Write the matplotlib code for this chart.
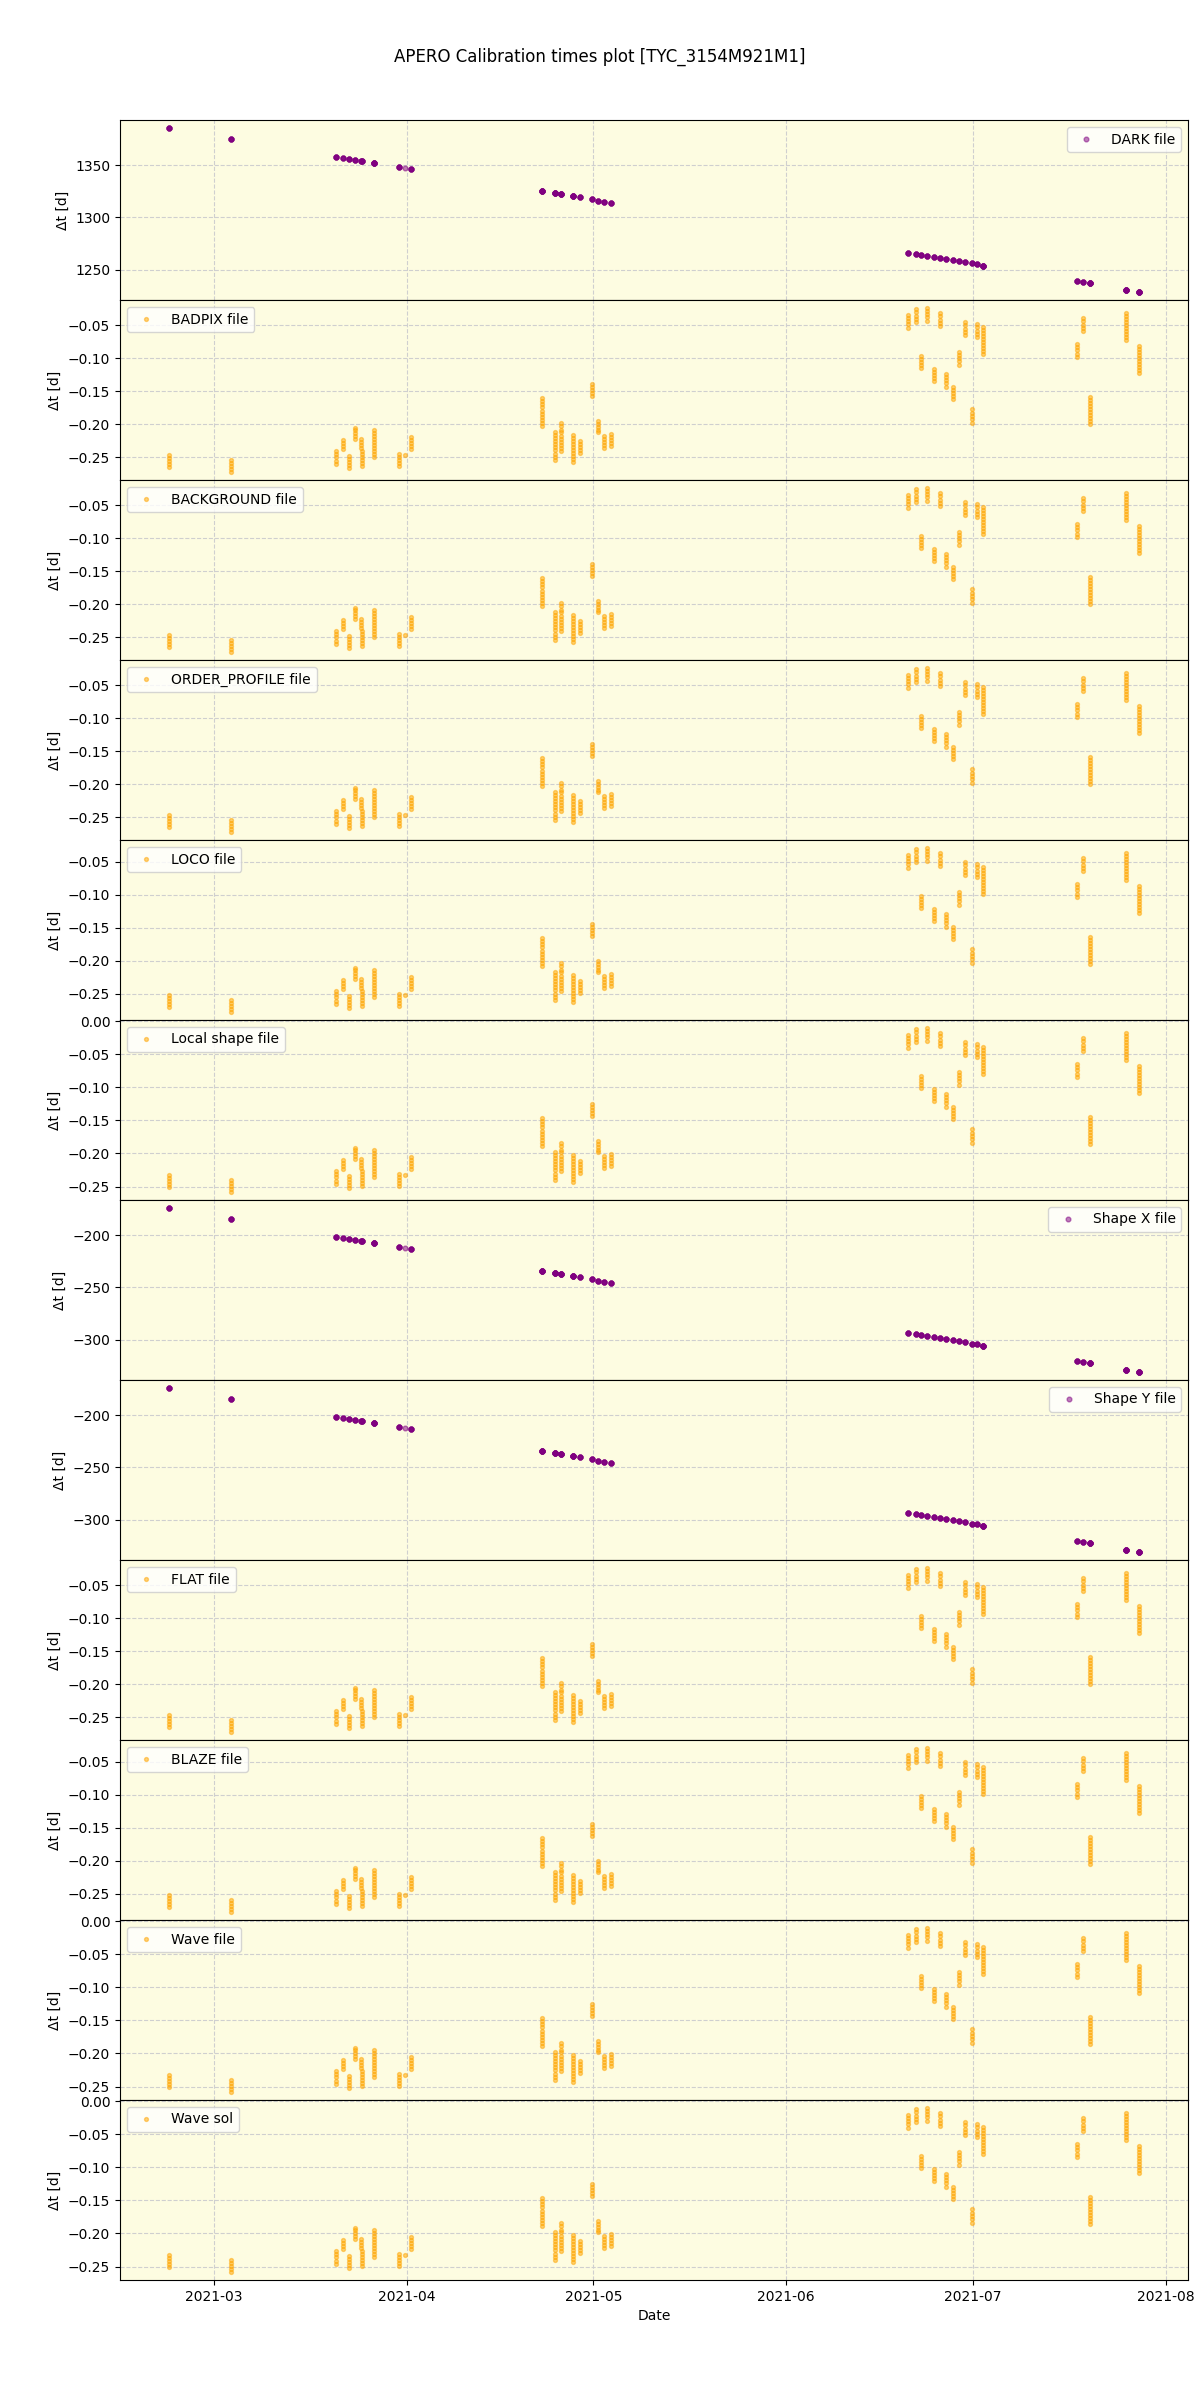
"""APERO calibration times plot: delta-t between each science frame and the
calibration file used for it, one panel per calibration type."""
import numpy as np
import pandas as pd
import matplotlib
matplotlib.use("Agg")
import matplotlib.pyplot as plt

TITLE = "APERO Calibration times plot [TYC_3154M921M1]"

# one entry per observing night (the Mar 24 night is split in two blocks)
NIGHTS = ["2021-02-21 17:00", "2021-03-03 17:00", "2021-03-20 17:00", "2021-03-21 17:00",
          "2021-03-22 17:00", "2021-03-23 17:00", "2021-03-24 14:00", "2021-03-24 19:00",
          "2021-03-26 17:00", "2021-03-30 17:00", "2021-03-31 17:00", "2021-04-01 17:00",
          "2021-04-22 19:00", "2021-04-24 19:00", "2021-04-25 19:00", "2021-04-27 19:00",
          "2021-04-28 19:00", "2021-04-30 17:00", "2021-05-01 19:00", "2021-05-02 19:00",
          "2021-05-03 22:00", "2021-06-20 14:00", "2021-06-21 19:00", "2021-06-22 17:00",
          "2021-06-23 17:00", "2021-06-24 19:00", "2021-06-25 17:00", "2021-06-26 17:00",
          "2021-06-27 19:00", "2021-06-28 19:00", "2021-06-29 17:00", "2021-06-30 22:00",
          "2021-07-01 17:00", "2021-07-02 17:00", "2021-07-17 17:00", "2021-07-18 17:00",
          "2021-07-19 19:00", "2021-07-25 17:00", "2021-07-27 19:00"]

# delta-t [d] to the reference DARK, per night
DARK_DT = [1385.2, 1374.8, 1357.6, 1356.7, 1355.7, 1354.8, 1353.9, 1353.7,
           1351.9, 1348.1, 1347.1, 1346.2, 1325.2, 1323.3, 1322.4, 1320.5,
           1319.5, 1317.6, 1315.7, 1314.8, 1313.8, 1266.2, 1265.2, 1264.3,
           1263.3, 1262.2, 1261.7, 1260.6, 1259.5, 1258.6, 1257.6, 1256.2,
           1255.6, 1254.1, 1239.5, 1238.6, 1237.3, 1231.0, 1229.0]

# delta-t [d] to the reference Shape X / Shape Y files, per night
SHAPEX_DT = [-174.3, -184.8, -201.9, -202.9, -203.8, -204.8, -205.6, -205.8,
             -207.6, -211.4, -212.4, -213.3, -234.3, -236.2, -237.1, -239.1,
             -240.0, -241.9, -243.8, -244.8, -245.7, -293.3, -294.5, -295.4,
             -296.4, -297.5, -298.4, -299.4, -300.5, -301.5, -302.4, -303.6,
             -304.4, -305.4, -320.4, -321.4, -322.5, -328.4, -330.5]
SHAPEY_DT = list(SHAPEX_DT)

# delta-t [d] to the nightly calibrations (BADPIX set), one list per night,
# one value per science frame
CAL_DT = [
    [-0.247, -0.251, -0.2555, -0.2595, -0.264],
    [-0.254, -0.2585, -0.263, -0.2675, -0.272],
    [-0.241, -0.2455, -0.25, -0.255, -0.2595],
    [-0.2245, -0.229, -0.2335, -0.238],
    [-0.248, -0.2525, -0.257, -0.262, -0.2665],
    [-0.205, -0.2095, -0.214, -0.2185, -0.223],
    [-0.2225, -0.227, -0.2315, -0.236],
    [-0.2405, -0.245, -0.2495, -0.254, -0.2585, -0.2635],
    [-0.2085, -0.213, -0.2175, -0.222, -0.227, -0.2315, -0.236, -0.2405, -0.245, -0.25],
    [-0.2445, -0.249, -0.2535, -0.2585, -0.2635],
    [-0.247],
    [-0.219, -0.2235, -0.228, -0.2325, -0.237],
    [-0.1605, -0.165, -0.17, -0.1745, -0.1795, -0.184, -0.189, -0.1935, -0.1985, -0.203],
    [-0.212, -0.2165, -0.221, -0.226, -0.2305, -0.235, -0.2395, -0.2445, -0.249, -0.2535],
    [-0.1985, -0.203, -0.208, -0.2125, -0.2175, -0.222, -0.227, -0.2315, -0.2365, -0.241],
    [-0.216, -0.2205, -0.225, -0.2295, -0.234, -0.239, -0.2435, -0.248, -0.2525, -0.257],
    [-0.225, -0.2295, -0.234, -0.2385, -0.2435],
    [-0.139, -0.1435, -0.148, -0.1525, -0.157],
    [-0.1945, -0.199, -0.2035, -0.208, -0.2125],
    [-0.2175, -0.222, -0.2265, -0.231, -0.2355],
    [-0.2145, -0.219, -0.2235, -0.228, -0.2325],
    [-0.035, -0.0395, -0.0445, -0.049, -0.054],
    [-0.026, -0.031, -0.036, -0.041, -0.046],
    [-0.097, -0.1015, -0.106, -0.111, -0.1155],
    [-0.0245, -0.029, -0.034, -0.0385, -0.0435],
    [-0.117, -0.1215, -0.126, -0.1305, -0.1345],
    [-0.032, -0.037, -0.042, -0.0465, -0.0515],
    [-0.124, -0.1285, -0.1335, -0.138, -0.143],
    [-0.1435, -0.148, -0.1525, -0.1575, -0.162],
    [-0.0905, -0.0955, -0.1005, -0.105, -0.11],
    [-0.0455, -0.0505, -0.0555, -0.0605, -0.0655],
    [-0.1775, -0.1825, -0.1875, -0.1925, -0.1975],
    [-0.0485, -0.0535, -0.0585, -0.0635, -0.0685],
    [-0.0525, -0.057, -0.0615, -0.066, -0.0705, -0.075, -0.0795, -0.0845, -0.089, -0.0935],
    [-0.0785, -0.0835, -0.0885, -0.0935, -0.0985],
    [-0.0395, -0.0445, -0.0495, -0.0545, -0.0595],
    [-0.1585, -0.163, -0.1675, -0.172, -0.1765, -0.1815, -0.186, -0.1905, -0.195, -0.1995],
    [-0.0325, -0.037, -0.0415, -0.046, -0.0505, -0.055, -0.0595, -0.064, -0.0685, -0.0725],
    [-0.082, -0.0865, -0.091, -0.0955, -0.1, -0.1045, -0.109, -0.1135, -0.118, -0.1225],
]

# the nightly calibration files of each type were taken a few minutes apart
CAL_SHIFT = {"badpix": 0.0, "loco": -0.005, "wave": 0.014}

PANELS = [("DARK file", "dark"), ("BADPIX file", "badpix"),
          ("BACKGROUND file", "badpix"), ("ORDER_PROFILE file", "badpix"),
          ("LOCO file", "loco"), ("Local shape file", "wave"),
          ("Shape X file", "shapex"), ("Shape Y file", "shapey"),
          ("FLAT file", "badpix"), ("BLAZE file", "loco"),
          ("Wave file", "wave"), ("Wave sol", "wave")]


def main():
    dates = pd.to_datetime(NIGHTS)
    counts = [len(c) for c in CAL_DT]
    obs_dates = np.repeat(dates.values, counts)
    cal = np.concatenate([np.asarray(c, dtype=float) for c in CAL_DT])
    fixed = {"dark": np.repeat(DARK_DT, counts),
             "shapex": np.repeat(SHAPEX_DT, counts),
             "shapey": np.repeat(SHAPEY_DT, counts)}

    fig, axes = plt.subplots(len(PANELS), 1, sharex=True, figsize=(12, 24))
    for ax, (label, key) in zip(axes, PANELS):
        if key in CAL_SHIFT:
            y, color, ms, loc = cal + CAL_SHIFT[key], "orange", 2.8, "upper left"
        else:
            y, color, ms, loc = fixed[key], "purple", 3.4, "upper right"
        ax.plot(obs_dates, y, ls="None", marker="o", ms=ms, color=color,
                alpha=0.5, label=label)
        ax.set_facecolor("#fdfce1")
        ax.grid(True, ls="--", color="#cfcfcf", lw=0.8)
        ax.set_ylabel("Δt [d]")
        ax.legend(loc=loc)
    axes[-1].set_xlabel("Date")

    fig.suptitle(TITLE)
    fig.subplots_adjust(left=0.1, right=0.99, top=0.95, bottom=0.05, hspace=0)
    fig.savefig("out.png", dpi=100)
    plt.close(fig)


if __name__ == "__main__":
    main()
